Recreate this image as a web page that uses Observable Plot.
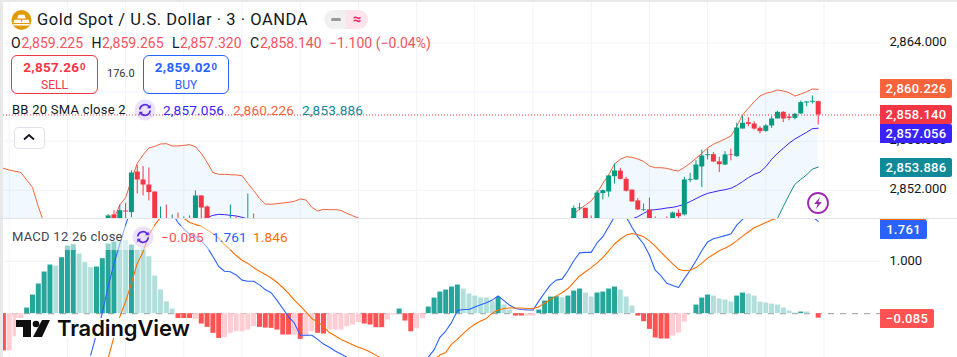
<!DOCTYPE html>
<html><head><meta charset="utf-8">
<script src="https://cdn.jsdelivr.net/npm/d3@7"></script>
<script src="https://cdn.jsdelivr.net/npm/@observablehq/plot@0.6"></script>
<style>
html,body{margin:0;padding:0;background:#fff;}
#chart{position:relative;width:957px;height:357px;overflow:hidden;background:#fff;font-family:Roboto,"Noto Sans",sans-serif;color:#131722;}
#chart svg.plot{position:absolute;left:0;}
.abs{position:absolute;white-space:nowrap;}
.tag{position:absolute;left:880px;height:19px;line-height:19px;color:#fff;font-weight:500;font-size:13px;text-align:center;border-radius:0 2px 2px 0;letter-spacing:.3px;}
.lg{font-size:13px;letter-spacing:.25px;line-height:16px;}
.val{font-size:13.6px;letter-spacing:.15px;}
.sup{font-size:9.5px;position:relative;top:-2.5px;margin-left:.5px;}
.ohlc{position:absolute;top:34px;font-size:14px;line-height:18px;color:#f7525f;white-space:nowrap;}
.ohlc b{font-weight:400;color:#131722;}
</style></head><body><div id="chart"></div>
<script>
// ---- time axis: bars are numbered so that a 30-minute gridline falls on every tenth bar
const gridBars = d3.range(0, 150, 10);
const priceTicks = [2852, 2856, 2860, 2864];
const priceLabels = [2852, 2856, 2864];
const macdTicks = [1];

// ---- candles
const candleBar = [17,18,19,20,21,22,23,24,25,26,27,28,29,30,31,32,33,34,38,39,41,42,
  97,98,99,100,101,102,103,104,105,106,107,108,109,110,111,113,114,115,116,117,118,119,120,
  121,122,123,124,125,126,127,128,129,130,131,132,133,134,135,136,137,138,139];
const open = [2849.5,2849.99,2849.5,2850.31,2850.18,2853.49,2852.84,2852.43,2851.86,2849,2849.4,2849,2849.4,2849,2849.2,2849.5,2851.54,2850.64,2849.2,2849.5,2849.2,2849.5,
  2849.5,2850.5,2850.53,2849.5,2849.3,2851.73,2851.86,2853.11,2853.57,2852.89,2852.02,2851.13,2850.37,2850.4,2849.5,2849.5,2849.4,2850.12,2849.99,2852.81,2852.84,2853.9,2854.82,
  2854.9,2854.31,2854.06,2854.9,2854.74,2856.99,2857.51,2857.4,2857.05,2856.8,2857.24,2857.81,2858.35,2857.97,2857.86,2858.22,2859.11,2859.17,2859.225];
const high = [2850.02,2850.34,2850.8,2850.94,2853.6,2854.03,2853.93,2853.82,2851.86,2850.64,2850.8,2849.99,2850.15,2849.83,2849.91,2851.94,2851.54,2850.72,2850.8,2849.83,2851.7,2850.07,
  2850.72,2850.94,2850.55,2849.91,2851.97,2852.02,2853.17,2854.14,2853.79,2853.06,2852.02,2851.32,2850.88,2851.37,2849.83,2849.83,2850.23,2850.4,2853.06,2853.38,2854.41,2855.28,2855.34,
  2855.07,2854.69,2855.15,2855.34,2857.46,2858,2857.92,2857.59,2857.18,2857.35,2858,2858.43,2858.41,2858.22,2858.27,2859.27,2859.22,2859.68,2859.265];
const low = [2849.4,2849.3,2849.3,2849.6,2849.77,2851.7,2851.54,2851.13,2849.3,2848.8,2848.8,2848.8,2848.8,2848.8,2849,2849.3,2849.6,2849.3,2849,2849,2849,2849,
  2849.3,2850.34,2849.3,2849,2849.1,2851.21,2851.43,2852.51,2852.84,2851.86,2851.05,2850.34,2850.26,2849.2,2849,2849,2849.2,2849.7,2849.91,2852.62,2852.79,2852.24,2854.47,
  2854.25,2853.44,2854.01,2854.41,2854.69,2856.99,2857.18,2856.91,2856.59,2856.72,2857.05,2857.81,2857.51,2857.67,2857.73,2858.19,2858.81,2859.03,2857.32];
const close = [2849.91,2849.4,2850.34,2850.23,2853.41,2852.84,2852.43,2851.81,2849.5,2849.5,2849,2849.4,2849,2849.5,2849.5,2851.54,2850.56,2849.5,2849.5,2849.2,2849.5,2849.2,
  2850.53,2850.56,2849.5,2849.2,2851.78,2851.97,2853.17,2853.57,2852.89,2851.92,2851.05,2850.4,2850.42,2849.4,2849.2,2849.2,2850.15,2849.85,2852.84,2852.89,2854.06,2854.79,2854.9,
  2854.31,2854.09,2854.88,2854.85,2857.07,2857.46,2857.37,2856.99,2856.78,2857.24,2857.81,2858.35,2857.81,2857.86,2858.19,2859.14,2859.19,2859.25,2858.14];

// ---- Bollinger bands
const upperStart = -1;
const upperBand = [
  2853.79,2853.65,2853.55,2853.46,2852.84,2852.24,2850.67,2849.31,2848.5,2848,
  2847.7,2847.5,2847.4,2847.4,2847.5,2847.7,2848,2848.5,2849.31,2849.72,
  2850.8,2851.4,2852.84,2854.2,2854.88,2855.45,2855.58,2855.77,2855.8,2855.61,
  2855.61,2855.66,2855.72,2855.55,2855.01,2854.28,2853.44,2853.3,2853.3,2853.27,
  2853.25,2853.19,2852.57,2851.97,2851.35,2850.88,2850.86,2850.91,2850.96,2851.02,
  2851.1,2851.29,2851.21,2850.61,2850.31,2850.45,2850.42,2850.42,2850.37,2850.12,
  2849.93,2849.74,2849.3,2849,2848.6,2848.2,2848,2847.8,2847.6,2847.5,
  2847.4,2847.3,2847.2,2847.2,2847.2,2847.2,2847.3,2847.3,2847.4,2847.5,
  2847.6,2847.6,2847.7,2847.7,2847.7,2847.8,2847.8,2847.8,2847.8,2847.8,
  2847.8,2847.9,2847.9,2848,2848.2,2848.5,2848.9,2849.3,2850.07,2850.45,
  2850.8,2851.13,2851.75,2852.57,2853.25,2854.14,2854.52,2854.74,2854.69,2854.55,
  2854.36,2853.98,2853.84,2853.84,2853.79,2853.65,2853.57,2853.87,2854.2,2854.6,
  2855.01,2855.45,2855.75,2855.96,2856.18,2856.42,2857.2,2858.13,2858.68,2859.22,
  2859.68,2859.9,2860.01,2860.17,2860.09,2859.95,2859.68,2859.84,2860.03,2860.25,
  2860.226];
const basisEarlyStart = 32;
const basisEarly = [2849.5,2849.66,2849.77,2849.96,2850.04,2850.02,2849.96,2849.91,2849.8,2849.66,2849.4];
const basisLateStart = 106;
const basisLate = [2849.4,2849.66,2849.85,2850.12,2850.37,2850.42,2850.48,2850.56,2850.61,2850.72,2850.86,2851.08,2851.32,2851.56,
  2851.75,2851.86,2851.97,2852.05,2852.16,2852.4,2852.7,2853.03,2853.3,2853.48,2853.92,2854.52,2855.01,2855.42,2855.83,2856.18,2856.45,2856.72,2857.02,2857.056];
const lowerStart = 131;
const lowerBand = [2848.8,2849.72,2850.67,2851.62,2852.49,2852.89,2853.25,2853.73,2853.886];
const bandFloor = 2846;

// ---- MACD
const macdStart = 14;
const macdLine = [
  -0.79,-0.39,0.01,0.52,0.95,1.33,1.69,2.04,2.39,2.55,
  2.62,2.55,2.36,2.11,1.92,1.74,1.62,1.52,1.47,1.39,
  1.27,1.09,0.9,0.81,0.8,0.74,0.64,0.62,0.62,0.55,
  0.46,0.4,0.26,0.1,-0.06,-0.18,-0.41,-0.41,-0.41,-0.49,
  -0.58,-0.64,-0.71,-0.77,-0.83,-0.92,-1.1,-1.3,-1.4,-1.5,
  -1.6,-1.6,-1.6,-1.5,-1.4,-1.3,-1.1,-0.95,-0.83,-0.69,
  -0.45,-0.33,-0.17,0.06,0.08,0.08,0.13,0.17,0.21,0.26,
  0.34,0.25,0.16,0.1,0.08,0.07,0.07,0.24,0.4,0.55,
  0.64,0.66,0.82,1.01,1.16,1.17,1.17,1.35,1.47,1.66,
  1.85,1.98,1.85,1.65,1.47,1.33,1.12,0.83,0.72,0.58,
  0.54,0.5,0.67,0.83,1.01,1.2,1.37,1.43,1.46,1.49,
  1.52,1.69,1.8,1.95,2.05,2.1,2.15,2.2,2.25,2.3,
  2.3,2.25,2.1,1.95,1.85,1.761];
const signalLine = [
  -1.5,-1.35,-1.15,-0.85,-0.44,-0.06,0.23,0.58,0.96,1.18,
  1.5,1.69,1.84,1.9,1.94,1.91,1.82,1.74,1.7,1.67,
  1.6,1.53,1.44,1.32,1.22,1.11,1.02,0.96,0.88,0.81,
  0.75,0.68,0.6,0.5,0.39,0.26,0.15,0.03,-0.09,-0.16,
  -0.24,-0.36,-0.42,-0.49,-0.54,-0.59,-0.64,-0.68,-0.73,-0.79,
  -0.86,-0.93,-1,-1.05,-1.08,-1.1,-1.1,-1.05,-0.95,-0.88,
  -0.79,-0.74,-0.58,-0.49,-0.38,-0.28,-0.2,-0.14,-0.09,0.01,
  0.07,0.1,0.11,0.11,0.11,0.1,0.1,0.13,0.2,0.27,
  0.34,0.4,0.48,0.6,0.72,0.8,0.88,0.97,1.07,1.2,
  1.33,1.42,1.5,1.53,1.51,1.47,1.39,1.29,1.17,1.06,
  0.95,0.85,0.82,0.83,0.88,0.96,1.06,1.13,1.2,1.25,
  1.31,1.39,1.48,1.56,1.64,1.69,1.74,1.79,1.82,1.85,
  1.87,1.88,1.88,1.87,1.86,1.846];
const histStart = -1;
const histValues = [
  -0.71,-0.71,-0.44,-0.12,0.108,0.356,0.566,0.795,0.929,0.91,
  1.069,1.291,1.317,1.139,0.973,0.878,0.891,1.05,1.33,1.368,
  1.38,1.393,1.31,1.215,1.26,1.088,0.719,0.452,0.229,0.089,
  -0.121,-0.153,-0.153,-0.108,-0.197,-0.261,-0.375,-0.471,-0.458,-0.375,
  -0.344,-0.344,-0.312,-0.248,-0.261,-0.274,-0.28,-0.312,-0.407,-0.407,
  -0.407,-0.49,-0.439,-0.344,-0.375,-0.388,-0.312,-0.312,-0.312,-0.248,
  -0.216,-0.172,-0.197,-0.216,-0.267,-0.267,-0.121,-0.025,0.089,-0.14,
  -0.344,-0.286,-0.095,0.127,0.299,0.413,0.452,0.509,0.547,0.471,
  0.375,0.337,0.299,0.299,0.229,0.312,0.165,0.07,-0.045,-0.045,
  -0.045,-0.045,0.07,0.242,0.318,0.324,0.305,0.337,0.433,0.471,
  0.394,0.318,0.394,0.413,0.471,0.509,0.452,0.318,0.146,-0.045,
  -0.153,-0.299,-0.464,-0.483,-0.483,-0.426,-0.369,-0.159,0.005,0.165,
  0.299,0.356,0.337,0.28,0.261,0.223,0.337,0.394,0.375,0.337,
  0.223,0.204,0.184,0.165,0.108,0.051,0.013,0.032,0.032,0.006,
  -0.085];
const fadedBars = [0,1,2,8,12,13,14,19,20,22,23,24,25,26,27,28,32,37,38,39,40,41,42,49,51,52,
  55,56,57,58,59,60,65,66,70,71,78,79,80,81,82,83,85,86,89,90,95,99,100,105,106,107,
  114,115,116,117,121,122,123,124,127,128,129,130,131,132,133,134,135,137,138];

// ---- colours
const green = "#089981", red = "#f23645", gridColor = "#f0f3fa";
const xDomain = [-1.495, 149.706], plotRight = 77;

const withIndex = (arr, start) => arr.map((v, j) => ({i: start + j, v}));
const candles = candleBar.map((i, j) => ({i, o: open[j], h: high[j], l: low[j], c: close[j], up: close[j] >= open[j]}));
const candleColor = d => d.up ? green : red;
const upperRows = withIndex(upperBand, upperStart);
const lowerByBar = new Map(lowerBand.map((v, j) => [lowerStart + j, v]));
const bandRows = upperRows.map(d => ({i: d.i, u: d.v, l: lowerByBar.get(d.i) ?? bandFloor}));
const basisRows = [...withIndex(basisEarly, basisEarlyStart).map(d => ({...d, s: "a"})), ...withIndex(basisLate, basisLateStart).map(d => ({...d, s: "b"}))];
const histRows = withIndex(histValues, histStart);
const faded = new Set(fadedBars);
const histColor = d => d.v >= 0 ? (faded.has(d.i) ? "#b2dfdb" : "#26a69a") : (faded.has(d.i) ? "#ffcdd2" : "#ff5252");

const pricePlot = Plot.plot({
  width: 957, height: 218, marginLeft: 0, marginRight: plotRight, marginTop: 0, marginBottom: 0,
  x: {domain: xDomain, axis: null},
  y: {domain: [2849.702, 2867.462], axis: null},
  style: {background: "transparent", fontFamily: "Roboto,'Noto Sans',sans-serif"},
  marks: [
    Plot.ruleX(gridBars, {x: d => d, stroke: gridColor, clip: true}),
    Plot.ruleY(priceTicks, {y: d => d, stroke: gridColor, clip: true}),
    Plot.areaY(bandRows, {x: "i", y1: "l", y2: "u", fill: "#2196f3", fillOpacity: 0.06, clip: true}),
    Plot.line(upperRows, {x: "i", y: "v", stroke: "#f7633b", strokeWidth: 1, clip: true}),
    Plot.line(basisRows, {x: "i", y: "v", z: "s", stroke: "#3a22ff", strokeWidth: 1, clip: true}),
    Plot.line(withIndex(lowerBand, lowerStart), {x: "i", y: "v", stroke: "#0f8a99", strokeWidth: 1, clip: true}),
    Plot.ruleX(candles, {x: "i", y1: "l", y2: "h", stroke: candleColor, strokeWidth: 1, clip: true}),
    Plot.ruleX(candles, {x: "i", y1: "o", y2: "c", stroke: candleColor, strokeWidth: 5, clip: true}),
    Plot.ruleY([close[close.length - 1]], {stroke: red, strokeDasharray: "1,2", strokeWidth: 1, dy: 0.07, clip: true}),
    Plot.text(priceLabels, {text: d => d3.format(",.3f")(d), y: d => d, frameAnchor: "right", dx: 9, dy: -1.5, textAnchor: "start", fontSize: 13, fill: "#131722"})
  ]
});
pricePlot.style.top = "0px";

const macdPlot = Plot.plot({
  width: 957, height: 139, marginLeft: 0, marginRight: plotRight, marginTop: 0, marginBottom: 0,
  x: {domain: xDomain, axis: null},
  y: {domain: [-0.8355, 1.8165], axis: null},
  style: {background: "transparent", fontFamily: "Roboto,'Noto Sans',sans-serif"},
  marks: [
    Plot.ruleX(gridBars, {x: d => d, stroke: gridColor, clip: true}),
    Plot.ruleY(macdTicks, {y: d => d, stroke: gridColor, clip: true}),
    Plot.ruleY([0], {stroke: "#9598a1", strokeDasharray: "6,6", strokeWidth: 1, clip: true}),
    Plot.ruleX(histRows, {x: "i", y1: 0, y2: "v", stroke: histColor, strokeWidth: 5, clip: true}),
    Plot.line(withIndex(macdLine, macdStart), {x: "i", y: "v", stroke: "#2962ff", strokeWidth: 1.1, clip: true}),
    Plot.line(withIndex(signalLine, macdStart), {x: "i", y: "v", stroke: "#ff6d00", strokeWidth: 1.1, clip: true}),
    Plot.text(macdTicks, {text: d => d3.format(".3f")(d), y: d => d, frameAnchor: "right", dx: 9, dy: -0.5, textAnchor: "start", fontSize: 13, fill: "#131722"})
  ]
});
macdPlot.style.top = "218px";

const root = document.getElementById("chart");
root.append(pricePlot, macdPlot);

const swap = (cx, cy) => `<svg class="abs" style="left:${cx-11}px;top:${cy-11}px" width="22" height="22" viewBox="0 0 22 22"><circle cx="11" cy="11" r="10.5" fill="#7c4dff" fill-opacity=".16"/><path d="M5.8 10.5a5.2 5.2 0 0 1 9-3.2l1.2 1.2M16.2 11.5a5.2 5.2 0 0 1-9 3.2l-1.2-1.2" fill="none" stroke="#5b2be0" stroke-width="1.7"/><path d="M16.7 5.4v3.8h-3.8zM5.3 16.6v-3.8h3.8z" fill="#5b2be0"/></svg>`;

const overlay = `
<div class="abs" style="left:0;top:226px;width:290px;height:24px;background:rgba(255,255,255,.5)"></div>
<div class="abs" style="left:16px;top:318px;width:176px;height:20px;background:#fff"></div>
<svg class="abs" style="left:16px;top:318px" width="36" height="20" viewBox="0 0 36 20">
 <path d="M0 2h15v17H7V9H0z" fill="#0f0f0f"/><circle cx="20" cy="6" r="3.3" fill="#0f0f0f"/><path d="M26 2h8l-8 17h-9z" fill="#0f0f0f"/></svg>
<div class="abs" style="left:57px;top:315px;font:600 22px/27px Inter,Roboto,sans-serif;color:#0f0f0f;letter-spacing:-.1px">TradingView</div>

<div class="abs" style="left:0;top:0;width:957px;height:2px;background:#e9e9e9"></div>
<div class="abs" style="left:0;top:0;width:3px;height:357px;background:#e9e9e9"></div>

<svg class="abs" style="left:11px;top:10px" width="22" height="20" viewBox="0 0 22 20">
 <circle cx="10.5" cy="10" r="10" fill="#e09b04"/><path d="M7.5 4.8h6l1.2 3.6H6.3zM3.4 9.8h6.3l1 3.2H2.5zM11.5 9.8h6.2l.9 3.2H10.6zM2.4 14h16.2v1.4H2.4z" fill="#fff"/></svg>
<div class="abs" style="left:37px;top:10px;font-size:16.5px;line-height:20px;letter-spacing:.53px;color:#131722">Gold Spot / U.S. Dollar · 3 · OANDA</div>
<div class="abs" style="left:324px;top:10px;width:22px;height:19px;background:#f0f0f0;border-radius:10px 0 0 10px"></div>
<div class="abs" style="left:346px;top:10px;width:22px;height:19px;background:#fce3ec;border-radius:0 10px 10px 0"></div>
<div class="abs" style="left:331px;top:18px;width:10px;height:3px;background:#9a9a9a;border-radius:2px"></div>
<div class="abs" style="left:346px;top:9px;width:22px;text-align:center;font-size:15px;font-weight:700;line-height:20px;color:#e91e63">≈</div>

<div class="ohlc" style="left:11px"><b>O</b></div><div class="ohlc" style="left:21.5px">2,859.225</div>
<div class="ohlc" style="left:91.5px"><b>H</b></div><div class="ohlc" style="left:102px">2,859.265</div>
<div class="ohlc" style="left:172px"><b>L</b></div><div class="ohlc" style="left:180px">2,857.320</div>
<div class="ohlc" style="left:250px"><b>C</b></div><div class="ohlc" style="left:260px">2,858.140</div>
<div class="ohlc" style="left:329px">−1.100 (−0.04%)</div>

<div class="abs" style="left:11px;top:55px;width:85px;height:37px;border:1px solid #f23645;border-radius:6px;color:#f23645;text-align:center">
 <div style="font-weight:700;font-size:13.5px;line-height:15px;margin-top:4px;letter-spacing:.3px">2,857.26<span class="sup">0</span></div><div style="font-size:12px;line-height:15px;margin-top:2px">SELL</div></div>
<div class="abs" style="left:107px;top:67px;font-size:11px;line-height:14px;color:#333">176.0</div>
<div class="abs" style="left:143px;top:55px;width:84px;height:37px;border:1px solid #2962ff;border-radius:6px;color:#2962ff;text-align:center">
 <div style="font-weight:700;font-size:13.5px;line-height:15px;margin-top:4px;letter-spacing:.3px">2,859.02<span class="sup">0</span></div><div style="font-size:12px;line-height:15px;margin-top:2px">BUY</div></div>

<div class="abs lg" style="left:12px;top:102px">BB 20 SMA close 2</div>
${swap(145,110)}
<div class="abs lg val" style="left:163px;top:102px;color:#3a22ff">2,857.056</div>
<div class="abs lg val" style="left:233px;top:102px;color:#f7633b">2,860.226</div>
<div class="abs lg val" style="left:302px;top:102px;color:#0f8a99">2,853.886</div>
<div class="abs" style="left:13.5px;top:127px;width:29px;height:20px;border:1px solid #e0e3eb;border-radius:4px;background:#fff"></div>
<svg class="abs" style="left:22px;top:133px" width="14" height="8" viewBox="0 0 14 8"><path d="M2 6.5l5-4.5 5 4.5" fill="none" stroke="#131722" stroke-width="1.8"/></svg>

<div class="abs lg" style="left:12px;top:229px;color:#434651">MACD 12 26 close</div>
${swap(143,237)}
<div class="abs lg val" style="left:161px;top:229px;color:#ff5252">−0.085</div>
<div class="abs lg val" style="left:212px;top:229px;color:#2962ff">1.761</div>
<div class="abs lg val" style="left:253px;top:229px;color:#ff6d00">1.846</div>

<svg class="abs" style="left:807px;top:192px" width="22" height="22" viewBox="0 0 22 22"><circle cx="11" cy="11" r="10" fill="#fff" stroke="#9c27b0" stroke-width="1.8"/><path d="M13 5l-5.8 7h3.4l-1.6 5 5.8-7h-3.4z" fill="#9c27b0"/></svg>

<div class="tag" style="top:79px;width:72px;background:#f7633b">2,860.226</div>
<div class="tag" style="top:105px;width:72px;background:#f23645">2,858.140</div>
<div class="tag" style="top:124px;width:72px;background:#3a22ff">2,857.056</div>
<div class="tag" style="top:158px;width:72px;background:#0f8a99">2,853.886</div>
<div class="abs" style="left:880px;top:218.5px;width:46px;height:2px;background:#ff6d00"></div>
<div class="tag" style="top:220px;width:47px;background:#2962ff">1.761</div>
<div class="tag" style="top:309px;width:54px;background:#ff5252">−0.085</div>
<div class="abs" style="left:0;top:218px;width:957px;height:1px;background:#e0e3eb"></div>
`;
const layer = document.createElement("div");
layer.innerHTML = overlay;
root.append(...layer.childNodes);
</script></body></html>
